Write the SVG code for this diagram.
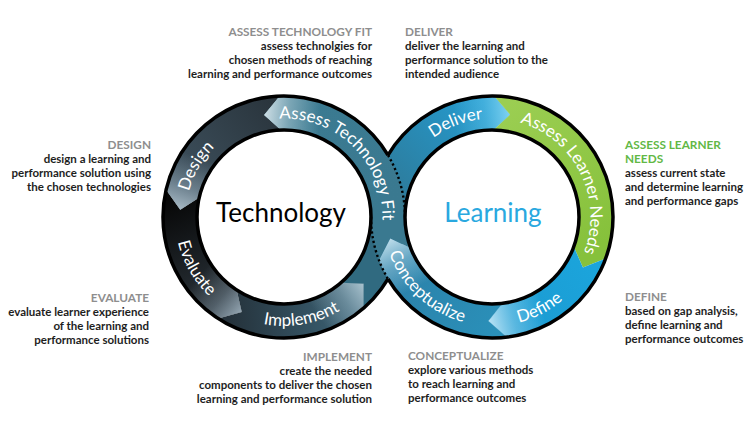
<svg xmlns="http://www.w3.org/2000/svg" width="752" height="430" viewBox="0 0 752 430">
<defs>
<style>
.f{font-family:Lato,"Open Sans","DejaVu Sans",sans-serif}
.hd{font-size:11.8px;font-weight:700;fill:#8e8e8e}
.hdg{font-size:11.8px;font-weight:700;fill:#62b846}
.bd{font-size:11.5px;font-weight:700;fill:#1e1e1e}
.band{font-size:17px;fill:#fff}
.ctr{font-size:26px}
.edge{fill:none;stroke:#000;stroke-width:3.5}
.dot{fill:none;stroke:#000;stroke-width:2.4;stroke-dasharray:2.2 2.6}
</style>
<linearGradient id="gDesign" gradientUnits="userSpaceOnUse" x1="280.37" y1="113.06" x2="182.66" y2="193.6"><stop offset="0" stop-color="#2a353d"/><stop offset="1" stop-color="#3e515e"/></linearGradient>
<linearGradient id="hDesign" gradientUnits="userSpaceOnUse" x1="198.81" y1="157.35" x2="180.25" y2="209.74"><stop offset="0" stop-color="#9fb4c2" stop-opacity="0"/><stop offset="0.55" stop-color="#9fb4c2" stop-opacity="0.45"/><stop offset="1" stop-color="#b4c6d1" stop-opacity="0.9"/></linearGradient>
<linearGradient id="gEval" gradientUnits="userSpaceOnUse" x1="182.66" y1="193.6" x2="227.36" y2="304.22"><stop offset="0" stop-color="#070707"/><stop offset="1" stop-color="#2b343b"/></linearGradient>
<linearGradient id="hEval" gradientUnits="userSpaceOnUse" x1="198.81" y1="276.65" x2="241.7" y2="312"><stop offset="0" stop-color="#8ea2b0" stop-opacity="0"/><stop offset="0.55" stop-color="#8ea2b0" stop-opacity="0.4"/><stop offset="1" stop-color="#9fb2bf" stop-opacity="0.9"/></linearGradient>
<linearGradient id="gImpl" gradientUnits="userSpaceOnUse" x1="227.36" y1="304.22" x2="352.23" y2="295.49"><stop offset="0" stop-color="#25323b"/><stop offset="1" stop-color="#3c6376"/></linearGradient>
<linearGradient id="hImpl" gradientUnits="userSpaceOnUse" x1="317.86" y1="315.33" x2="363.66" y2="283.85"><stop offset="0" stop-color="#a3bfcc" stop-opacity="0"/><stop offset="0.55" stop-color="#a3bfcc" stop-opacity="0.45"/><stop offset="1" stop-color="#b5cdd8" stop-opacity="0.9"/></linearGradient>
<linearGradient id="gATF" gradientUnits="userSpaceOnUse" x1="388" y1="217" x2="280.37" y2="113.06"><stop offset="0" stop-color="#3a7990"/><stop offset="1" stop-color="#3b7a91"/></linearGradient>
<linearGradient id="hATF" gradientUnits="userSpaceOnUse" x1="319.57" y1="119.27" x2="264.16" y2="114.91"><stop offset="0" stop-color="#c9dbe2" stop-opacity="0"/><stop offset="0.55" stop-color="#c9dbe2" stop-opacity="0.45"/><stop offset="1" stop-color="#d6e4ea" stop-opacity="0.95"/></linearGradient>
<linearGradient id="gDel" gradientUnits="userSpaceOnUse" x1="388" y1="217" x2="493.82" y2="113.02"><stop offset="0" stop-color="#2f7693"/><stop offset="1" stop-color="#249bcf"/></linearGradient>
<linearGradient id="hDel" gradientUnits="userSpaceOnUse" x1="454.73" y1="119.91" x2="510.05" y2="114.58"><stop offset="0" stop-color="#6fcdf0" stop-opacity="0"/><stop offset="0.55" stop-color="#6fcdf0" stop-opacity="0.4"/><stop offset="1" stop-color="#8ad8f4" stop-opacity="0.9"/></linearGradient>
<linearGradient id="gALN" gradientUnits="userSpaceOnUse" x1="493.82" y1="113.02" x2="589.73" y2="252.57"><stop offset="0" stop-color="#9bce52"/><stop offset="1" stop-color="#86c13b"/></linearGradient>
<linearGradient id="gDef" gradientUnits="userSpaceOnUse" x1="589.73" y1="252.57" x2="504.67" y2="320.22"><stop offset="0" stop-color="#1ba5dc"/><stop offset="1" stop-color="#1c9ad1"/></linearGradient>
<linearGradient id="hDef" gradientUnits="userSpaceOnUse" x1="542.42" y1="307.96" x2="488.37" y2="320.94"><stop offset="0" stop-color="#a5dbf2" stop-opacity="0"/><stop offset="0.55" stop-color="#a5dbf2" stop-opacity="0.45"/><stop offset="1" stop-color="#c2e7f7" stop-opacity="0.95"/></linearGradient>
<linearGradient id="gCon" gradientUnits="userSpaceOnUse" x1="504.67" y1="320.22" x2="394.91" y2="254.27"><stop offset="0" stop-color="#2a90b9"/><stop offset="1" stop-color="#2c80a8"/></linearGradient>
<linearGradient id="hCon" gradientUnits="userSpaceOnUse" x1="415.93" y1="287.93" x2="390.28" y2="238.62"><stop offset="0" stop-color="#b0d6e6" stop-opacity="0"/><stop offset="0.55" stop-color="#b0d6e6" stop-opacity="0.45"/><stop offset="1" stop-color="#c6e2ee" stop-opacity="0.95"/></linearGradient>
<path id="sATF" d="M405 217 A121 121 0 0 0 279.78 96.07 L264.16 114.91 L280.96 130.05 A87 87 0 0 1 371 217 Z"/>
<path id="sDesign" d="M279.78 96.07 A121 121 0 0 0 166.1 189.77 L180.25 209.74 L199.23 197.42 A87 87 0 0 1 280.96 130.05 L264.16 114.91 Z"/>
<path id="sEval" d="M166.1 189.77 A121 121 0 0 0 218.1 318.48 L241.7 312 L236.62 289.97 A87 87 0 0 1 199.23 197.42 L180.25 209.74 Z"/>
<path id="sImpl" d="M218.1 318.48 A121 121 0 0 0 363.39 308.32 L363.66 283.85 L341.08 282.66 A87 87 0 0 1 236.62 289.97 L241.7 312 Z"/>
<path id="sDel" d="M371 217 A121 121 0 0 1 494.12 96.02 L510.05 114.58 L493.52 130.02 A87 87 0 0 0 405 217 Z"/>
<path id="sALN" d="M494.12 96.02 A121 121 0 0 1 605.7 258.38 L582.96 267.42 L573.75 246.75 A87 87 0 0 0 493.52 130.02 L510.05 114.58 Z"/>
<path id="sDef" d="M605.7 258.38 A121 121 0 0 1 506.75 337.09 L488.37 320.94 L502.61 303.35 A87 87 0 0 0 573.75 246.75 L582.96 267.42 Z"/>
<path id="sCon" d="M506.75 337.09 A121 121 0 0 1 379.03 260.37 L390.28 238.62 L410.78 248.18 A87 87 0 0 0 502.61 303.35 L488.37 320.94 Z"/>
<path id="tpATF" d="M245.51 126.33 A98.5 98.5 0 0 1 371.76 261.72"/>
<path id="tpDesign" d="M198.7 266.25 A98.5 98.5 0 0 1 284 118.5"/>
<path id="tpEval" d="M189.61 162.5 A109 109 0 0 0 284 326"/>
<path id="tpImpl" d="M200.51 287.06 A109 109 0 0 0 386.43 254.28"/>
<path id="tpDel" d="M394.71 201.59 A98.5 98.5 0 0 1 553.99 140.45"/>
<path id="tpALN" d="M476.59 119.71 A98.5 98.5 0 0 1 566.34 281.63"/>
<path id="tpDef" d="M437.5 311.4 A109 109 0 0 0 600.59 226.5"/>
<path id="tpCon" d="M386.71 188.79 A109 109 0 0 0 527.49 320.06"/>
</defs>
<rect width="752" height="430" fill="#fff"/>

<g id="node-implement">
<use href="#sImpl" fill="url(#gImpl)"/><use href="#sImpl" fill="url(#hImpl)"/>
<text class="f band"><textPath href="#tpImpl" startOffset="50%" text-anchor="middle">Implement</textPath></text>
<text class="f" text-anchor="end"><tspan class="hd" x="372" y="361">IMPLEMENT</tspan><tspan class="bd" x="372" y="375">create the needed</tspan><tspan class="bd" x="372" y="389">components to deliver the chosen</tspan><tspan class="bd" x="372" y="403">learning and performance solution</tspan></text>
</g>
<g id="node-evaluate">
<use href="#sEval" fill="url(#gEval)"/><use href="#sEval" fill="url(#hEval)"/>
<text class="f band"><textPath href="#tpEval" startOffset="50%" text-anchor="middle">Evaluate</textPath></text>
<text class="f" text-anchor="end"><tspan class="hd" x="149" y="302">EVALUATE</tspan><tspan class="bd" x="149" y="316">evaluate learner experience</tspan><tspan class="bd" x="149" y="330">of the learning and</tspan><tspan class="bd" x="149" y="344">performance solutions</tspan></text>
</g>
<g id="node-design">
<use href="#sDesign" fill="url(#gDesign)"/><use href="#sDesign" fill="url(#hDesign)"/>
<text class="f band"><textPath href="#tpDesign" startOffset="50%" text-anchor="middle">Design</textPath></text>
<text class="f" text-anchor="end"><tspan class="hd" x="151" y="149">DESIGN</tspan><tspan class="bd" x="151" y="163">design a learning and</tspan><tspan class="bd" x="151" y="177">performance solution using</tspan><tspan class="bd" x="151" y="191">the chosen technologies</tspan></text>
</g>
<g id="node-deliver">
<use href="#sDel" fill="url(#gDel)"/><use href="#sDel" fill="url(#hDel)"/>
<text class="f band"><textPath href="#tpDel" startOffset="50%" text-anchor="middle">Deliver</textPath></text>
<text class="f"><tspan class="hd" x="405" y="36">DELIVER</tspan><tspan class="bd" x="405" y="50">deliver the learning and</tspan><tspan class="bd" x="405" y="64">performance solution to the</tspan><tspan class="bd" x="405" y="78">intended audience</tspan></text>
</g>
<g id="node-assess-learner-needs">
<use href="#sALN" fill="url(#gALN)"/>
<text class="f band"><textPath href="#tpALN" startOffset="154.7" text-anchor="end">Assess Learner</textPath></text>
<text class="f band"><textPath href="#tpALN" startOffset="158.7">Needs</textPath></text>
<text class="f"><tspan class="hdg" x="625" y="149">ASSESS LEARNER</tspan><tspan class="hdg" x="625" y="163">NEEDS</tspan><tspan class="bd" x="625" y="177">assess current state</tspan><tspan class="bd" x="625" y="191">and determine learning</tspan><tspan class="bd" x="625" y="205">and performance gaps</tspan></text>
</g>
<g id="node-define">
<use href="#sDef" fill="url(#gDef)"/><use href="#sDef" fill="url(#hDef)"/>
<text class="f band"><textPath href="#tpDef" startOffset="50%" text-anchor="middle">Define</textPath></text>
<text class="f"><tspan class="hd" x="625" y="301">DEFINE</tspan><tspan class="bd" x="625" y="315">based on gap analysis,</tspan><tspan class="bd" x="625" y="329">define learning and</tspan><tspan class="bd" x="625" y="343">performance outcomes</tspan></text>
</g>

<g id="connectors">
<path d="M363.39 308.32 A121 121 0 0 0 405 217 L371 217 A87 87 0 0 1 341.08 282.66 L363.66 283.85 Z" fill="#306a80"/>
<path d="M379.03 260.37 A121 121 0 0 1 371 217 L405 217 A87 87 0 0 0 410.78 248.18 L390.28 238.62 Z" fill="#3a7990"/>
</g>

<g id="node-assess-technology-fit">
<use href="#sATF" fill="url(#gATF)"/><use href="#sATF" fill="url(#hATF)"/>
<text class="f band"><textPath href="#tpATF" startOffset="173.6" text-anchor="end">Assess Technology</textPath></text>
<text class="f band"><textPath href="#tpATF" startOffset="177.6">Fit</textPath></text>
<text class="f" text-anchor="end"><tspan class="hd" x="372" y="36">ASSESS TECHNOLOGY FIT</tspan><tspan class="bd" x="372" y="50">assess technolgies for</tspan><tspan class="bd" x="372" y="64">chosen methods of reaching</tspan><tspan class="bd" x="372" y="78">learning and performance outcomes</tspan></text>
</g>
<g id="node-conceptualize">
<use href="#sCon" fill="url(#gCon)"/><use href="#sCon" fill="url(#hCon)"/>
<text class="f band"><textPath href="#tpCon" startOffset="50%" text-anchor="middle">Conceptualize</textPath></text>
<text class="f"><tspan class="hd" x="408" y="360">CONCEPTUALIZE</tspan><tspan class="bd" x="408" y="374">explore various methods</tspan><tspan class="bd" x="408" y="388">to reach learning and</tspan><tspan class="bd" x="408" y="402">performance outcomes</tspan></text>
</g>

<g id="ring-outlines">
<circle cx="284" cy="217" r="87" fill="#fff" stroke="#000" stroke-width="3.5"/>
<circle cx="492" cy="217" r="87" fill="#fff" stroke="#000" stroke-width="3.5"/>
<path class="edge" d="M388 155.15 A121 121 0 1 0 388 278.85"/>
<path class="edge" d="M388 155.15 A121 121 0 1 1 388 278.85"/>
<path class="dot" d="M388 155.15 A121 121 0 0 1 405 217"/>
<path class="dot" d="M371 217 A121 121 0 0 0 388 278.85"/>
</g>

<g id="node-technology">
<text class="f ctr" x="281" y="222" text-anchor="middle" fill="#000">Technology</text>
</g>
<g id="node-learning">
<text class="f ctr" x="493" y="222" text-anchor="middle" fill="#29a8df">Learning</text>
</g>
</svg>
